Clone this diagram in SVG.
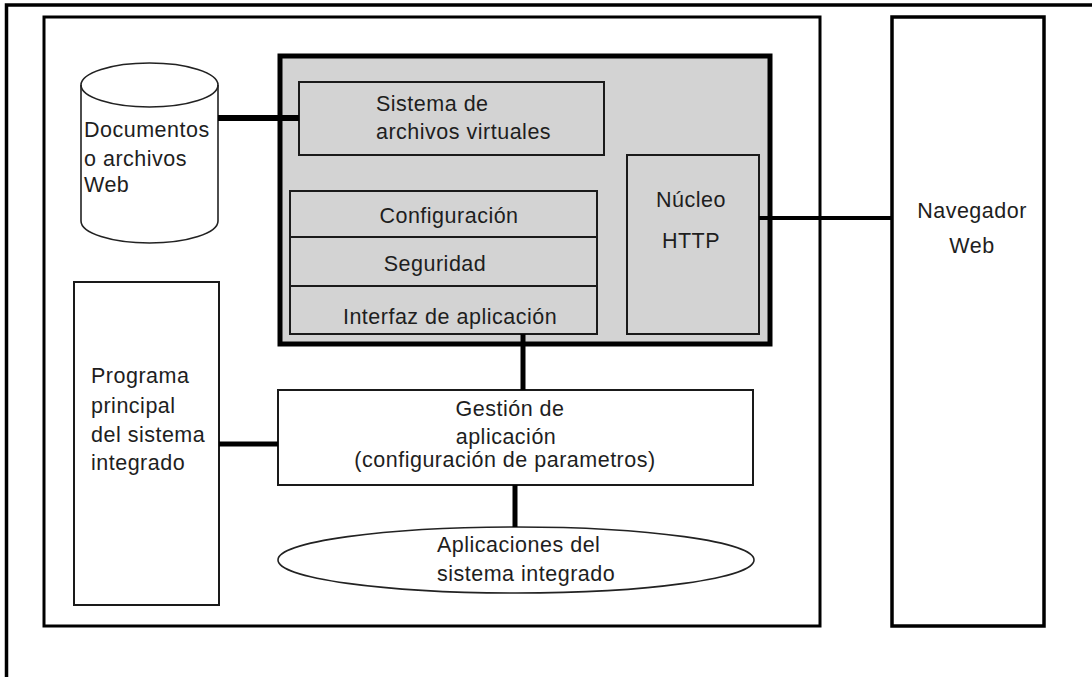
<svg xmlns="http://www.w3.org/2000/svg" width="1092" height="677" viewBox="0 0 1092 677">
<style>
text{font-family:"Liberation Sans",Arial,sans-serif;font-size:21.5px;fill:#1e1e1e;letter-spacing:0.5px}
.m{text-anchor:middle}
.w{fill:#fff;stroke:#1a1a1a;stroke-width:2}
.g{fill:#d3d3d3;stroke:#1a1a1a;stroke-width:2}
.c{fill:none;stroke:#000;stroke-linecap:butt}
</style>
<rect width="1092" height="677" fill="#fff"/>
<g id="frame">
<path d="M6.5,677 V5 H1092" fill="none" stroke="#000" stroke-width="3.5"/>
<rect x="44" y="17" width="776" height="609" fill="none" stroke="#000" stroke-width="3"/>
</g>
<g id="documentos">
<path d="M81,85 V221 A68.5,22 0 0 0 218,221 V85 A68.5,22 0 0 0 81,85 Z" fill="#fff" stroke="#222" stroke-width="1.6"/>
<path d="M81,85 A68.5,22 0 0 0 218,85" fill="none" stroke="#222" stroke-width="1.6"/>
<text x="84" y="137">Documentos</text>
<text x="84" y="166">o archivos</text>
<text x="84" y="192">Web</text>
</g>
<g id="servidor">
<rect x="280" y="56" width="490" height="288" fill="#d3d3d3" stroke="#000" stroke-width="5"/>
</g>
<g id="sistema-archivos">
<rect class="g" x="299" y="82" width="305" height="73"/>
<text x="376" y="111">Sistema de</text>
<text x="376" y="139">archivos virtuales</text>
</g>
<g id="configuracion">
<rect class="g" x="290" y="191" width="307" height="46"/>
<text class="m" x="449" y="223">Configuración</text>
</g>
<g id="seguridad">
<rect class="g" x="290" y="237" width="307" height="49"/>
<text class="m" x="435" y="271">Seguridad</text>
</g>
<g id="interfaz">
<rect class="g" x="290" y="286" width="307" height="48"/>
<text class="m" x="450" y="324">Interfaz de aplicación</text>
</g>
<g id="nucleo">
<rect class="g" x="627" y="155" width="132" height="179"/>
<text class="m" x="691" y="207">Núcleo</text>
<text class="m" x="691" y="248">HTTP</text>
</g>
<g id="programa">
<rect class="w" x="74" y="282" width="145" height="323" stroke-width="1.6"/>
<text x="91" y="383">Programa</text>
<text x="91" y="413">principal</text>
<text x="91" y="442">del sistema</text>
<text x="91" y="470">integrado</text>
</g>
<g id="gestion">
<rect class="w" x="278" y="390" width="475" height="95"/>
<text class="m" x="510" y="416">Gestión de</text>
<text class="m" x="506" y="444">aplicación</text>
<text class="m" x="505" y="467">(configuración de parametros)</text>
</g>
<g id="aplicaciones">
<ellipse cx="516" cy="560" rx="238" ry="33" fill="#fff" stroke="#222" stroke-width="1.6"/>
<text x="437" y="552">Aplicaciones del</text>
<text x="437" y="581">sistema integrado</text>
</g>
<g id="navegador">
<rect x="892" y="17" width="152" height="609" fill="#fff" stroke="#000" stroke-width="3.5"/>
<text class="m" x="972" y="218">Navegador</text>
<text class="m" x="972" y="253">Web</text>
</g>
<g id="connectors">
<path class="c" d="M218,118 H299" stroke-width="6"/>
<path class="c" d="M759,218 H892" stroke-width="4"/>
<path class="c" d="M523,334 V390" stroke-width="5"/>
<path class="c" d="M219,444 H278" stroke-width="5"/>
<path class="c" d="M515,485 V527" stroke-width="5"/>
</g>
</svg>
